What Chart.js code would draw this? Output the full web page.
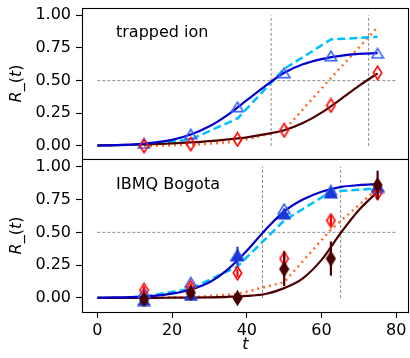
<!DOCTYPE html>
<html>
<head>
<meta charset="utf-8">
<script src="https://cdn.jsdelivr.net/npm/chart.js@4.4.0/dist/chart.umd.min.js"></script>
<style>
    html, body { margin: 0; padding: 0; background: #fff; }
    #wrap { position: relative; width: 410px; height: 358px; }
    .panel { position: absolute; left: 0; width: 410px; }
    #top { top: 0; height: 160px; }
    #bot { top: 150px; height: 208px; }
</style>
</head>
<body>
<div id="wrap">
    <div class="panel" id="top"><canvas id="topChart"></canvas></div>
    <div class="panel" id="bot"><canvas id="botChart"></canvas></div>
</div>
<script>
// time steps of the measured points and of the fitted curves
const tData = [12.5, 25, 37.5, 50, 62.5, 75];
const tFit = [0, 5, 10, 15, 20, 25, 30, 35, 40, 45, 50, 55, 60, 65, 70, 75];
const xTicks = [0, 20, 40, 60, 80];
const yTicks = [0, 0.25, 0.5, 0.75, 1.0];

// trapped ion panel
const ionTri = [0.02, 0.09, 0.30, 0.56, 0.69, 0.71];
const ionDia = [0.0, 0.015, 0.05, 0.12, 0.31, 0.56];
const ionCyan = [0.01, 0.05, 0.21, 0.59, 0.815, 0.835];
const ionOrange = [0.0, 0.008, 0.033, 0.12, 0.52, 0.91];
const ionBlueFit = [0.003, 0.006, 0.012, 0.025, 0.046, 0.087, 0.15, 0.24, 0.35, 0.46, 0.56, 0.625, 0.665, 0.69, 0.705, 0.71];
const ionBrownFit = [0.004, 0.006, 0.009, 0.013, 0.019, 0.027, 0.037, 0.05, 0.066, 0.09, 0.12, 0.175, 0.255, 0.355, 0.46, 0.555];
const ionCross = [46.5, 72.6];

// IBMQ Bogota panel
const ibmTriOpen = [0.04, 0.12, 0.33, 0.68, 0.82, 0.84];
const ibmTriFill = [-0.02, 0.02, 0.32, 0.64, 0.80, 0.85];
const ibmTriErr = [0.02, 0.02, 0.07, 0.04, 0.03, 0.03];
const ibmDiaOpen = [0.06, 0.08, 0.19, 0.30, 0.59, 0.80];
const ibmDiaOpenErr = [0.03, 0.03, 0.03, 0.06, 0.04, 0.03];
const ibmDiaFill = [-0.01, 0.04, 0.0, 0.22, 0.30, 0.86];
const ibmDiaFillErr = [0.03, 0.04, 0.03, 0.13, 0.13, 0.11];
const ibmCyan = [0.01, 0.07, 0.24, 0.59, 0.81, 0.835];
const ibmOrange = [0.0, 0.005, 0.03, 0.12, 0.52, 0.835];
const ibmBlueFit = [0.002, 0.004, 0.008, 0.016, 0.033, 0.065, 0.12, 0.22, 0.36, 0.52, 0.66, 0.75, 0.81, 0.845, 0.86, 0.867];
const ibmBrownFit = [0.0, 0.0, 0.001, 0.001, 0.002, 0.003, 0.005, 0.009, 0.016, 0.03, 0.075, 0.15, 0.29, 0.49, 0.67, 0.81];
const ibmCross = [44.2, 65.1];

const FONT = 'DejaVu Sans, sans-serif';

// marker images (matplotlib style open / filled markers)
function makeMarker(shape, stroke, fill, w, h, lw) {
    const c = document.createElement('canvas');
    c.width = w; c.height = h;
    const g = c.getContext('2d');
    const p = lw / 2 + 0.5;
    g.beginPath();
    if (shape === 'tri') {
        g.moveTo(w / 2, p);
        g.lineTo(w - p, h - p);
        g.lineTo(p, h - p);
    } else {
        g.moveTo(w / 2, p);
        g.lineTo(w - p, h / 2);
        g.lineTo(w / 2, h - p);
        g.lineTo(p, h / 2);
    }
    g.closePath();
    if (fill) { g.fillStyle = fill; g.fill(); }
    g.lineWidth = lw;
    g.strokeStyle = stroke;
    g.stroke();
    return c;
}

const triOpen = makeMarker('tri', '#2f5dff', null, 14, 12, 1.6);
const triFill = makeMarker('tri', '#1b3ad8', '#1b3ad8', 14, 12, 1.6);
const diaOpen = makeMarker('dia', '#ff0000', null, 11, 16, 1.6);
const diaFill = makeMarker('dia', '#4a0000', '#4a0000', 11, 16, 1.6);

function pts(xs, ys) {
    return xs.map((x, i) => ({ x: x, y: ys[i] }));
}

function markerSet(ys, img, color, errs) {
    return {
        data: pts(tData, ys), showLine: false, pointStyle: img, pointRadius: 6,
        borderColor: color, backgroundColor: color, errs: errs || null, order: 1
    };
}

// smooth = fitted curve, otherwise straight segments between the points
function lineSet(xs, ys, color, dash, width, order, smooth) {
    return {
        data: pts(xs, ys), borderColor: color, borderWidth: width, borderDash: dash,
        pointRadius: 0, fill: false, order: order,
        cubicInterpolationMode: smooth ? 'monotone' : 'default', tension: 0
    };
}

function guideSets(cross) {
    const guide = { borderColor: '#8c8c8c', borderWidth: 1, borderDash: [3, 2], pointRadius: 0, order: 20 };
    const list = [Object.assign({ data: [{ x: 0, y: 0.5 }, { x: 80, y: 0.5 }] }, guide)];
    cross.forEach(c => list.push(Object.assign({ data: [{ x: c, y: 0 }, { x: c, y: 1 }] }, guide)));
    return list;
}

// frame, error bars and texts
const decor = {
    id: 'decor',
    beforeDatasetDraw(chart, args) {
        const ds = chart.data.datasets[args.index];
        if (!ds.errs) return;
        const xs = chart.scales.x, ys = chart.scales.y, ctx = chart.ctx;
        ctx.save();
        ctx.strokeStyle = ds.borderColor;
        ctx.lineWidth = 2.2;
        ds.data.forEach((p, i) => {
            const px = xs.getPixelForValue(p.x);
            ctx.beginPath();
            ctx.moveTo(px, ys.getPixelForValue(p.y - ds.errs[i]));
            ctx.lineTo(px, ys.getPixelForValue(p.y + ds.errs[i]));
            ctx.stroke();
        });
        ctx.restore();
    },
    afterDraw(chart, args, opts) {
        const a = chart.chartArea, ctx = chart.ctx;
        ctx.save();
        ctx.strokeStyle = '#000';
        ctx.lineWidth = 1.1;
        ctx.strokeRect(a.left + 0.5, a.top + 0.5, a.right - a.left - 1, a.bottom - a.top);
        ctx.fillStyle = '#000';
        ctx.font = '16px ' + FONT;
        ctx.textBaseline = 'middle';
        ctx.fillText(opts.label, a.left + 34, a.top + opts.labelDy);
        // y title R_(t) with italic symbols
        const parts = [['R', 'italic '], ['_(', ''], ['t', 'italic '], [')', '']];
        let total = 0;
        parts.forEach(p => { ctx.font = p[1] + '16px ' + FONT; total += ctx.measureText(p[0]).width; });
        ctx.translate(21, (a.top + a.bottom) / 2);
        ctx.rotate(-Math.PI / 2);
        ctx.textBaseline = 'alphabetic';
        let x = -total / 2;
        parts.forEach(p => {
            ctx.font = p[1] + '16px ' + FONT;
            ctx.fillText(p[0], x, 0);
            x += ctx.measureText(p[0]).width;
        });
        ctx.restore();
        if (opts.xTitle) {
            ctx.save();
            ctx.font = 'italic 16px ' + FONT;
            ctx.fillStyle = '#000';
            ctx.textAlign = 'center';
            ctx.textBaseline = 'alphabetic';
            ctx.fillText('t', (a.left + a.right) / 2, chart.height - 9);
            ctx.restore();
        }
    }
};

function makeOptions(showX, padding, label, labelDy, yMin, yMax) {
    return {
        responsive: true,
        maintainAspectRatio: false,
        animation: false,
        events: [],
        layout: { padding: padding, autoPadding: false },
        plugins: {
            legend: { display: false },
            tooltip: { enabled: false },
            decor: { label: label, labelDy: labelDy, xTitle: showX }
        },
        scales: {
            x: {
                type: 'linear', min: -4.1, max: 83.4,
                display: showX,
                afterBuildTicks: s => { s.ticks = xTicks.map(v => ({ value: v })); },
                afterFit: s => { s.height = showX ? 46 : 0; s.paddingLeft = 0; s.paddingRight = 0; },
                grid: { drawOnChartArea: false, tickLength: 6, tickWidth: 1.1, tickColor: '#000' },
                border: { display: false },
                ticks: { color: '#000', font: { family: FONT, size: 16 }, padding: 3, maxRotation: 0 }
            },
            y: {
                type: 'linear', min: yMin, max: yMax,
                afterBuildTicks: s => { s.ticks = yTicks.map(v => ({ value: v })); },
                afterFit: s => { s.width = 82; s.paddingTop = 0; s.paddingBottom = 0; },
                grid: { drawOnChartArea: false, tickLength: 6, tickWidth: 1.1, tickColor: '#000' },
                border: { display: false },
                ticks: {
                    color: '#000', font: { family: FONT, size: 16 }, padding: 5,
                    callback: v => v.toFixed(2)
                }
            }
        }
    };
}

Chart.register(decor);

new Chart(document.getElementById('topChart'), {
    type: 'line',
    data: {
        datasets: [
            ...guideSets(ionCross),
            lineSet(tData, ionCyan, '#00bfff', [8, 4], 2.5, 6, false),
            lineSet(tData, ionOrange, '#ff6a2a', [2, 4], 2.5, 6, false),
            lineSet(tFit, ionBlueFit, '#0000cd', [], 2.2, 5, true),
            lineSet(tFit, ionBrownFit, '#4d0000', [], 2.2, 5, true),
            markerSet(ionDia, diaOpen, '#ff0000'),
            markerSet(ionTri, triOpen, '#2f5dff')
        ]
    },
    options: makeOptions(false, { left: 0, right: 1, top: 8, bottom: 1 }, 'trapped ion', 25, -0.1, 1.056)
});

new Chart(document.getElementById('botChart'), {
    type: 'line',
    data: {
        datasets: [
            ...guideSets(ibmCross),
            lineSet(tData, ibmCyan, '#00bfff', [8, 4], 2.5, 6, false),
            lineSet(tData, ibmOrange, '#ff6a2a', [2, 4], 2.5, 6, false),
            lineSet(tFit, ibmBlueFit, '#0000cd', [], 2.2, 5, true),
            lineSet(tFit, ibmBrownFit, '#4d0000', [], 2.2, 5, true),
            markerSet(ibmDiaFill, diaFill, '#4a0000', ibmDiaFillErr),
            markerSet(ibmDiaOpen, diaOpen, '#ff0000', ibmDiaOpenErr),
            markerSet(ibmTriFill, triFill, '#1b3ad8', ibmTriErr),
            markerSet(ibmTriOpen, triOpen, '#2f5dff')
        ]
    },
    options: makeOptions(true, { left: 0, right: 1, top: 9, bottom: 0 }, 'IBMQ Bogota', 26, -0.107, 1.059)
});
</script>
</body>
</html>
